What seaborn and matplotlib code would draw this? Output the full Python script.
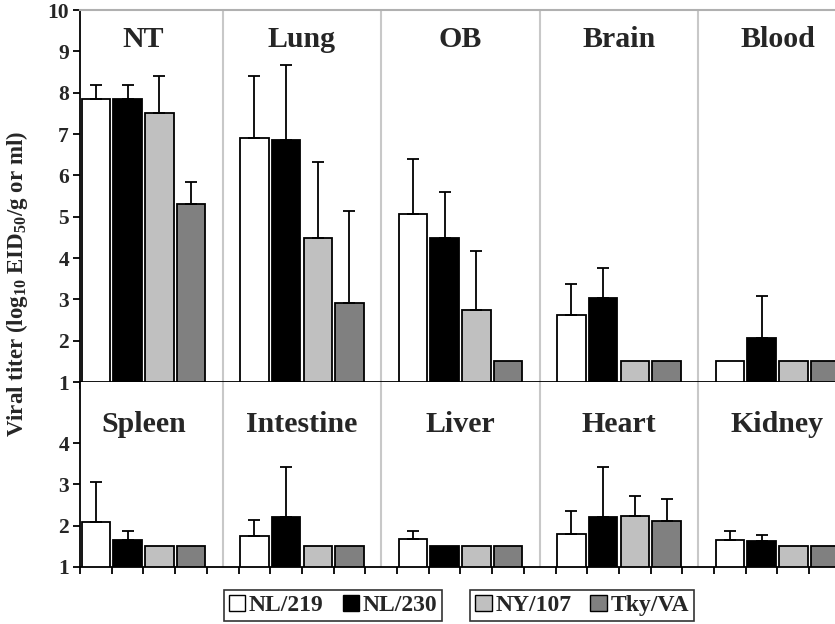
import numpy as np
import pandas as pd
import seaborn as sns
import matplotlib.pyplot as plt
from matplotlib.patches import Patch
from matplotlib.transforms import blended_transform_factory

strains = ["NL/219", "NL/230", "NY/107", "Tky/VA"]
colors = ["#ffffff", "#000000", "#c0c0c0", "#808080"]

tissues_top = ["NT", "Lung", "OB", "Brain", "Blood"]
titer_top = [
    [7.84, 7.84, 7.51, 5.31],
    [6.90, 6.86, 4.48, 2.90],
    [5.06, 4.49, 2.75, 1.50],
    [2.61, 3.04, 1.50, 1.50],
    [1.50, 2.07, 1.50, 1.50],
]
sd_top = [
    [0.35, 0.35, 0.90, 0.54],
    [1.51, 1.81, 1.84, 2.24],
    [1.34, 1.11, 1.41, 0.00],
    [0.76, 0.72, 0.00, 0.00],
    [0.00, 1.01, 0.00, 0.00],
]

tissues_bot = ["Spleen", "Intestine", "Liver", "Heart", "Kidney"]
titer_bot = [
    [2.09, 1.65, 1.50, 1.50],
    [1.74, 2.21, 1.50, 1.50],
    [1.69, 1.50, 1.50, 1.50],
    [1.81, 2.21, 2.23, 2.12],
    [1.65, 1.62, 1.50, 1.50],
]
sd_bot = [
    [0.97, 0.23, 0.00, 0.00],
    [0.41, 1.21, 0.00, 0.00],
    [0.18, 0.00, 0.00, 0.00],
    [0.54, 1.21, 0.50, 0.52],
    [0.22, 0.15, 0.00, 0.00],
]

sns.set_style("ticks")
plt.rcParams["font.family"] = ["Liberation Serif", "DejaVu Serif"]
plt.rcParams["font.weight"] = "bold"
plt.rcParams["mathtext.fontset"] = "custom"
plt.rcParams["mathtext.rm"] = "Liberation Serif"
plt.rcParams["mathtext.bf"] = "Liberation Serif:bold"


def make_df(tissues, titers, sds):
    rows = []
    for t, vals, errs in zip(tissues, titers, sds):
        for s, v, e in zip(strains, vals, errs):
            rows.append({"tissue": t, "strain": s, "titer": v, "sd": e})
    return pd.DataFrame(rows)


def draw_panel(ax, tissues, titers, sds, ymax, yticks, title_y):
    df = make_df(tissues, titers, sds)
    sns.barplot(data=df, x="tissue", y="titer", hue="strain",
                order=tissues, hue_order=strains, palette=colors,
                edgecolor="black", linewidth=1.3, gap=0.1,
                errorbar=None, legend=False, ax=ax)

    # error bars (upper only) on top of each bar, matched by x position
    bars = sorted(ax.patches, key=lambda p: p.get_x())
    for p, e in zip(bars, df["sd"]):
        if e > 0:
            xc = p.get_x() + p.get_width() / 2
            ax.errorbar(xc, p.get_height(), yerr=[[0], [e]], fmt="none",
                        ecolor="black", elinewidth=1.3, capsize=4.3,
                        capthick=1.3, zorder=1)

    n = len(tissues)
    for i in range(n - 1):
        ax.axvline(i + 0.5, color="#c8c8c8", lw=1.5, zorder=0)

    ticks = np.concatenate([i + np.array([-0.4, -0.2, 0, 0.2, 0.4]) for i in range(n)])
    ax.set_xticks(ticks)
    ax.set_xticklabels([])
    ax.set_xlim(-0.4, 4.363)
    ax.set_ylim(1, ymax)
    ax.set_yticks(yticks)
    ax.set_yticklabels([str(v) for v in yticks], fontsize=15.5, fontweight="bold")
    ax.tick_params(axis="both", direction="out", length=5, width=1.3, color="black")
    ax.tick_params(axis="y", pad=3)
    ax.set_xlabel("")
    ax.set_ylabel("")
    for sp in ["left", "bottom"]:
        ax.spines[sp].set_linewidth(1.3)
        ax.spines[sp].set_color("black")
    ax.spines["right"].set_visible(False)

    trans = blended_transform_factory(ax.transData, ax.transAxes)
    for i, t in enumerate(tissues):
        ax.text(i, title_y, t, transform=trans, ha="center", va="baseline",
                fontsize=21.5, fontweight="bold")


fig = plt.figure(figsize=(8.35, 6.24), dpi=100)
ax_top = fig.add_axes([80 / 835, 1 - 382 / 624, 755 / 835, 372 / 624])
ax_bot = fig.add_axes([80 / 835, 1 - 567 / 624, 755 / 835, 185 / 624])

draw_panel(ax_top, tissues_top, titer_top, sd_top, 10, list(range(1, 11)), 0.90)
draw_panel(ax_bot, tissues_bot, titer_bot, sd_bot, 5.48, [1, 2, 3, 4], 0.73)

ax_top.spines["top"].set_color("#b0b0b0")
ax_top.spines["top"].set_linewidth(1.5)
ax_bot.spines["top"].set_visible(False)

fig.text(0.020, 0.545, "Viral titer (log$_{10}$ EID$_{50}$/g or ml)",
         rotation=90, ha="center", va="center", fontsize=16.5, fontweight="bold")

handles = [Patch(facecolor=c, edgecolor="black", linewidth=1.0) for c in colors]
leg_kw = dict(ncol=2, frameon=True, fancybox=False, fontsize=17,
              handlelength=0.7, handleheight=0.7, handletextpad=0.15,
              columnspacing=0.8, borderpad=0.2, borderaxespad=0)
leg1 = fig.legend(handles[:2], strains[:2], loc="center",
                  bbox_to_anchor=(0.399, 0.030), **leg_kw)
leg2 = fig.legend(handles[2:], strains[2:], loc="center",
                  bbox_to_anchor=(0.697, 0.030), **leg_kw)
for leg in (leg1, leg2):
    leg.get_frame().set_edgecolor("black")
    leg.get_frame().set_linewidth(1.2)
    for txt in leg.get_texts():
        txt.set_fontweight("bold")

fig.savefig("out.png", dpi=100)
